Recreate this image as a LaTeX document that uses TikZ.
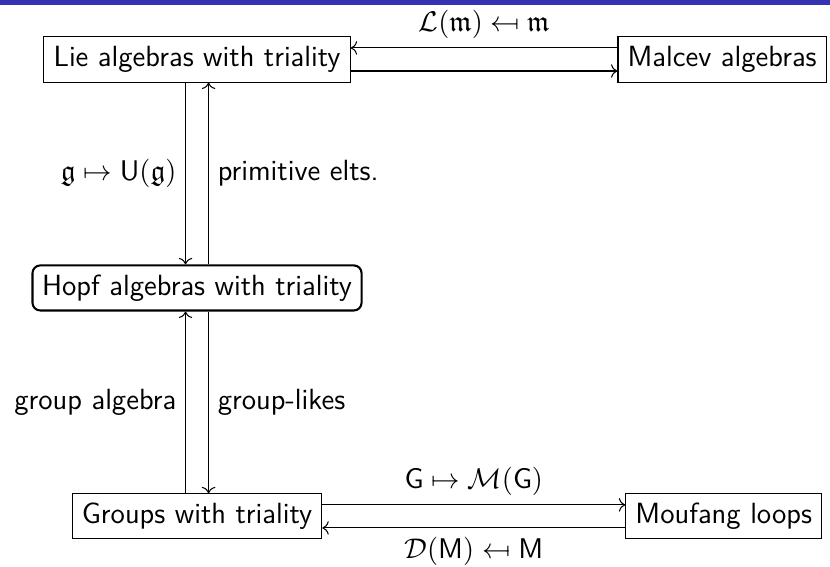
\documentclass[tikz,border=0pt]{standalone}
\usepackage{amssymb}
\usepackage{stmaryrd}
\usetikzlibrary{arrows.meta,positioning}
\definecolor{barblue}{RGB}{51,51,179}

\begin{document}
\begin{tikzpicture}[
    font=\fontsize{11.25}{13.5}\selectfont\sffamily,
    node distance=2.46cm,
    box/.style={draw, minimum height=0.61cm, inner xsep=0.13cm},
    hopfbox/.style={box, thick, rounded corners=3pt},
    arrow/.style={->, >={To}}
  ]
    \useasboundingbox (0,0) rectangle (11.23,-7.66);
    \fill[barblue] (0,0) rectangle (11.23,-0.065);

    \node[box] (lie) at (2.666,-0.805) {Lie algebras with triality};
    \node[hopfbox, below=of lie] (hopf) {Hopf algebras with triality};
    \node[box, below=of hopf] (groups) {Groups with triality};
    \node[box, right=3.61cm of lie] (malcev) {Malcev algebras};
    \node[box, right=4.10cm of groups] (moufang) {Moufang loops};

    \draw[arrow] ([yshift=0.156cm]malcev.west) -- ([yshift=0.156cm]lie.east)
      node[midway, above] {$\mathcal{L}(\mathfrak{m}) \mapsfrom \mathfrak{m}$};
    \draw[arrow] ([yshift=-0.156cm]lie.east) -- ([yshift=-0.156cm]malcev.west);
    \draw[arrow] ([xshift=-0.156cm]lie.south) -- ([xshift=-0.156cm]hopf.north)
      node[midway, left] {$\mathfrak{g} \mapsto \mathsf{U}(\mathfrak{g})$};
    \draw[arrow] ([xshift=0.156cm]hopf.north) -- ([xshift=0.156cm]lie.south)
      node[midway, right] {primitive elts.};
    \draw[arrow] ([xshift=-0.156cm]groups.north) -- ([xshift=-0.156cm]hopf.south)
      node[midway, left] {group algebra};
    \draw[arrow] ([xshift=0.156cm]hopf.south) -- ([xshift=0.156cm]groups.north)
      node[midway, right] {group-likes};
    \draw[arrow] ([yshift=0.156cm]groups.east) -- ([yshift=0.156cm]moufang.west)
      node[midway, above] {$\mathsf{G} \mapsto \mathcal{M}(\mathsf{G})$};
    \draw[arrow] ([yshift=-0.156cm]moufang.west) -- ([yshift=-0.156cm]groups.east)
      node[midway, below] {$\mathcal{D}(\mathsf{M}) \mapsfrom \mathsf{M}$};
  \end{tikzpicture}
\end{document}
